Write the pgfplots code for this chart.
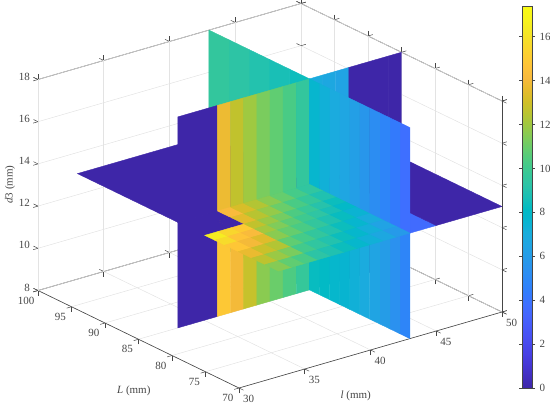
\documentclass[border=0pt]{standalone}
\usepackage{fontspec}
\setmainfont{Liberation Serif}
\usepackage{pgfplots}
\pgfplotsset{compat=1.18}
\definecolor{axgray}{RGB}{70,70,70}
\pgfplotsset{
  colormap={parula}{
    rgb=(.2422,.1504,.6603) rgb=(.2578,.1818,.7511) rgb=(.2706,.2147,.8364) rgb=(.2783,.2559,.8991)
    rgb=(.2813,.3006,.9414) rgb=(.2795,.3447,.9717) rgb=(.2699,.3892,.9906) rgb=(.2440,.4358,.9988)
    rgb=(.1963,.4847,.9892) rgb=(.1786,.5289,.9682) rgb=(.1687,.5703,.9359) rgb=(.1460,.6091,.9079)
    rgb=(.1248,.6459,.8883) rgb=(.0952,.6798,.8598) rgb=(.0297,.7082,.8163) rgb=(.0067,.7312,.7660)
    rgb=(.0964,.7500,.7120) rgb=(.1717,.7670,.6554) rgb=(.2161,.7843,.5923) rgb=(.2906,.7973,.5188)
    rgb=(.3909,.8029,.4354) rgb=(.5044,.7993,.3480) rgb=(.6174,.7876,.2612) rgb=(.7242,.7698,.1910)
    rgb=(.8203,.7498,.1535) rgb=(.9035,.7330,.1774) rgb=(.9728,.7298,.2394) rgb=(.9970,.7659,.2199)
    rgb=(.9892,.8136,.1885) rgb=(.9676,.8639,.1643) rgb=(.9597,.9135,.1423) rgb=(.9691,.9606,.1064)
    rgb=(.9769,.9839,.0805)
  },
  slice/.style={surf, shader=flat corner, z buffer=none, point meta=explicit},
  every tick label/.append style={font=\fontsize{11}{13}\selectfont, text=axgray},
}
\begin{document}
\begin{tikzpicture}
\path[use as bounding box] (0,0) rectangle (550pt,408pt);
\begin{axis}[
  at={(38pt,20pt)}, anchor=south west,
  x={(13.15pt,3.8pt)}, y={(-6.7pt,3.25pt)}, z={(0pt,21.1pt)},
  xmin=30, xmax=50, ymin=70, ymax=100, zmin=8, zmax=18,
  xtick={30,35,...,50}, ytick={70,75,...,100}, ztick={8,10,...,18},
  /pgf/number format/assume math mode=true,
  grid=major, grid style={gray!22, line width=0.5pt},
  tick align=outside, major tick length=5pt,
  tick style={axgray, line width=0.5pt},
  axis line style={axgray, line width=0.6pt},
  colormap name=parula, point meta min=0, point meta max=17.4,
  xlabel={\textit{l} (mm)}, ylabel={\textit{L} (mm)}, zlabel={\textit{d}3 (mm)},
  label style={font=\fontsize{11}{13}\selectfont, text=axgray},
  xlabel style={at={(axis cs:34.8,62,8)}, anchor=center},
  ylabel style={at={(axis cs:24.7,75.3,8)}, anchor=center},
  zlabel style={at={(axis cs:27.87,100,13.4)}, anchor=center, rotate=0},
]
% painter's order, planes cut at l=43, L=85, d3=13
% d3=13, back right
\addplot3[slice, mesh/cols=2] table[meta=v] {
l L d v
43 85 13 0
50 85 13 0
43 100 13 0
50 100 13 0
};
% l=43, back half
\addplot3[slice, mesh/cols=6] table[meta=v] {
l L d v
43 85 8 8.6
43 88 8 8.9
43 91 8 9.2
43 94 8 9.5
43 97 8 9.8
43 100 8 9.8
43 85 13 8.4
43 88 13 8.7
43 91 13 9.0
43 94 13 9.3
43 97 13 9.6
43 100 13 9.6
43 85 18 0
43 88 18 0
43 91 18 0
43 94 18 0
43 97 18 0
43 100 18 0
};
% d3=13, back left
\addplot3[slice, mesh/cols=2] table[meta=v] {
l L d v
33 85 13 0
43 85 13 0
33 100 13 0
43 100 13 0
};
% L=85
\addplot3[slice, mesh/cols=18] table[meta=v] {
l L d v
33 85 8 0
34 85 8 0
35 85 8 0
36 85 8 14.9
37 85 8 14.0
38 85 8 12.8
39 85 8 11.6
40 85 8 11.0
41 85 8 10.4
42 85 8 9.7
43 85 8 8.0
44 85 8 7.0
45 85 8 6.5
46 85 8 0
47 85 8 0
48 85 8 0
49 85 8 0
50 85 8 0
33 85 13 0
34 85 13 0
35 85 13 0
36 85 13 13.8
37 85 13 12.7
38 85 13 12.0
39 85 13 11.3
40 85 13 10.8
41 85 13 10.3
42 85 13 9.6
43 85 13 6.9
44 85 13 6.7
45 85 13 6.4
46 85 13 0
47 85 13 0
48 85 13 0
49 85 13 0
50 85 13 0
33 85 18 0
34 85 18 0
35 85 18 0
36 85 18 0
37 85 18 0
38 85 18 0
39 85 18 0
40 85 18 0
41 85 18 0
42 85 18 0
43 85 18 0
44 85 18 0
45 85 18 0
46 85 18 0
47 85 18 0
48 85 18 0
49 85 18 0
50 85 18 0
};
% d3=13, front right
\addplot3[slice, mesh/cols=3] table[meta=v] {
l L d v
43 70 13 3.6
45 70 13 0
50 70 13 0
43 85 13 0
45 85 13 0
50 85 13 0
};
% l=43, front half
\addplot3[slice, mesh/cols=11] table[meta=v] {
l L d v
43 70 8 4.8
43 71.5 8 5.4
43 73 8 6.0
43 74.5 8 6.5
43 76 8 6.9
43 77.5 8 7.3
43 79 8 7.6
43 80.5 8 7.8
43 82 8 8.1
43 83.5 8 8.3
43 85 8 0
43 70 13 3.8
43 71.5 13 4.3
43 73 13 4.8
43 74.5 13 5.2
43 76 13 5.7
43 77.5 13 6.2
43 79 13 6.6
43 80.5 13 6.9
43 82 13 7.3
43 83.5 13 7.7
43 85 13 0
43 70 18 0
43 71.5 18 0
43 73 18 0
43 74.5 18 0
43 76 18 0
43 77.5 18 0
43 79 18 0
43 80.5 18 0
43 82 18 0
43 83.5 18 0
43 85 18 0
};
% d3=13, front left: stripes in l, falling towards L=70
\addplot3[slice, mesh/cols=11] table[meta=v] {
l L d v
33 85 13 0
34 85 13 0
35 85 13 0
36 85 13 14.2
37 85 13 13.2
38 85 13 12.4
39 85 13 11.6
40 85 13 10.9
41 85 13 10.2
42 85 13 9.5
43 85 13 0
33 83 13 0
34 83 13 0
35 83 13 0
36 83 13 13.5
37 83 13 12.5
38 83 13 11.8
39 83 13 11.0
40 83 13 10.3
41 83 13 9.7
42 83 13 8.9
43 83 13 0
33 81 13 16.5
34 81 13 15.5
35 81 13 15.0
36 81 13 12.7
37 81 13 11.9
38 81 13 11.2
39 81 13 10.4
40 81 13 9.8
41 81 13 9.1
42 81 13 8.4
43 81 13 0
33 79.5 13 15.7
34 79.5 13 14.7
35 79.5 13 14.2
36 79.5 13 12.1
37 79.5 13 11.4
38 79.5 13 10.7
39 79.5 13 10.0
40 79.5 13 9.4
41 79.5 13 8.7
42 79.5 13 8.0
43 79.5 13 0
33 78 13 14.8
34 78 13 14.0
35 78 13 13.4
36 78 13 11.6
37 78 13 10.9
38 78 13 10.3
39 78 13 9.6
40 78 13 8.9
41 78 13 8.3
42 78 13 7.5
43 78 13 0
33 76 13 13.7
34 76 13 12.9
35 76 13 12.4
36 76 13 10.8
37 76 13 10.2
38 76 13 9.6
39 76 13 9.0
40 76 13 8.4
41 76 13 7.7
42 76 13 7.0
43 76 13 0
33 74 13 12.6
34 74 13 11.9
35 74 13 11.3
36 74 13 10.1
37 74 13 9.5
38 74 13 9.0
39 74 13 8.4
40 74 13 7.8
41 74 13 7.2
42 74 13 6.4
43 74 13 0
33 72 13 11.5
34 72 13 10.8
35 72 13 10.3
36 72 13 9.3
37 72 13 8.9
38 72 13 8.4
39 72 13 7.8
40 72 13 7.3
41 72 13 6.7
42 72 13 5.9
43 72 13 0
33 70 13 0
34 70 13 0
35 70 13 0
36 70 13 0
37 70 13 0
38 70 13 0
39 70 13 0
40 70 13 0
41 70 13 0
42 70 13 0
43 70 13 0
};
\end{axis}
\begin{axis}[
  at={(522pt,20pt)}, anchor=south west, scale only axis,
  width=10pt, height=382pt,
  view={0}{90}, xmin=0, xmax=1, ymin=0, ymax=17.4,
  xtick=\empty, ytick={0,2,...,16}, yticklabel pos=right,
  /pgf/number format/assume math mode=true,
  tick align=outside, major tick length=3pt,
  tick style={axgray, line width=0.5pt},
  axis line style={axgray, line width=0.6pt},
  yticklabel style={xshift=1pt},
  colormap name=parula, point meta min=0, point meta max=17.4,
  axis on top,
]
\addplot3[surf, shader=interp, point meta=y, mesh/cols=2] coordinates {
  (0,0,0) (1,0,0)
  (0,17.4,0) (1,17.4,0)
};
\end{axis}
\end{tikzpicture}
\end{document}
